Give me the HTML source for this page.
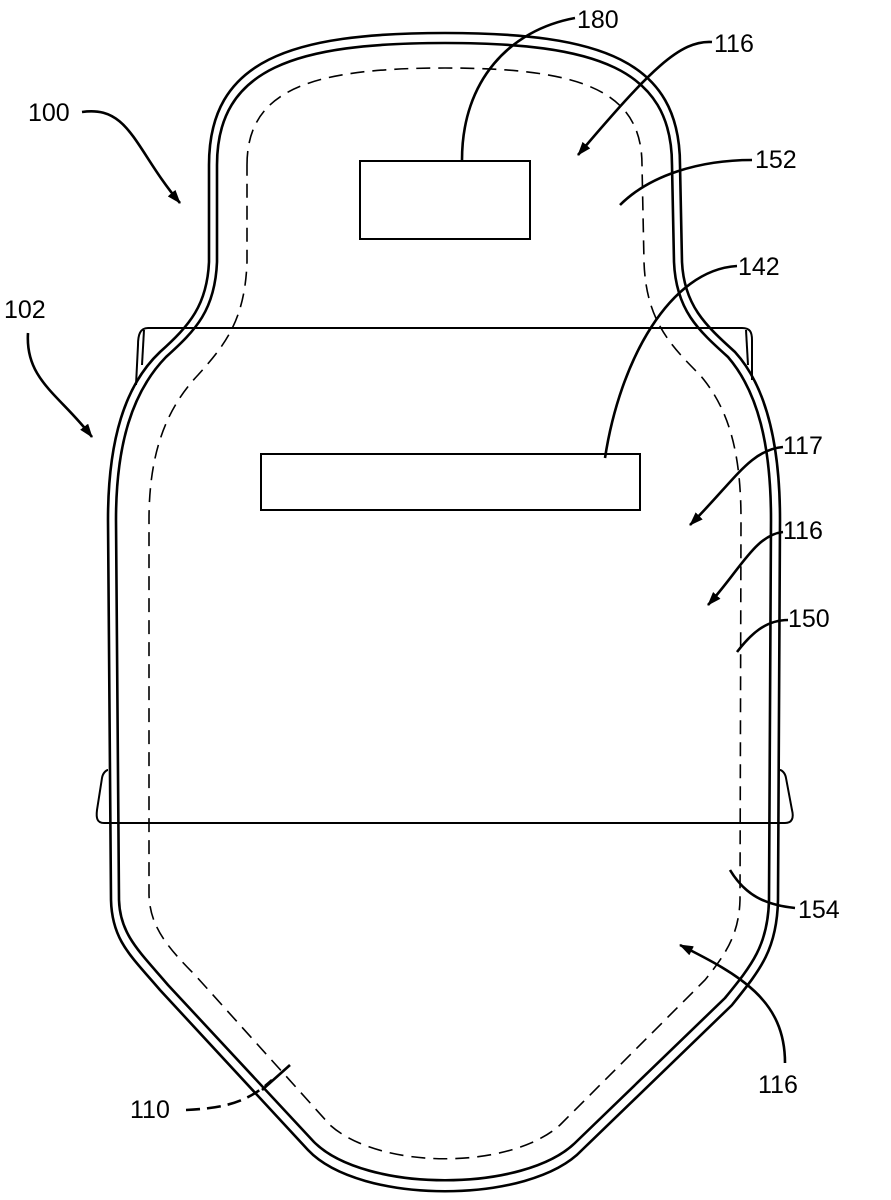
<!DOCTYPE html>
<html><head><meta charset="utf-8"><style>
html,body{margin:0;padding:0;background:#fff}
svg{display:block}
text{font-family:"Liberation Sans",Arial,sans-serif;font-size:25px;fill:#000}
</style></head><body>
<svg width="891" height="1200" viewBox="0 0 891 1200" xmlns="http://www.w3.org/2000/svg">
<defs><marker id="ah" markerWidth="14" markerHeight="10" refX="13" refY="5" orient="auto" markerUnits="userSpaceOnUse"><path d="M0,0 L14,5 L0,10 Z" fill="#000"/></marker></defs>
<g fill="none" stroke="#000" stroke-width="2.6">
<path d="M 209,165 C 209,60 290,33 445,33 C 600,33 680,60 680,165 L 682,262 C 684,305 705,325 735,352 C 765,385 780,440 780,520 L 778,900 C 777,950 760,970 732,1005 L 582,1150 C 530,1205 360,1205 308,1150 L 160,990 C 130,955 112,940 111,900 L 108,520 C 108,440 125,385 160,352 C 190,325 207,305 209,262 Z"/>
<path d="M 217,165 C 217,68 295,43 445,43 C 595,43 672,68 672,165 L 674,262 C 676,310 698,330 728,357 C 758,392 771,445 771,520 L 769,900 C 768,945 752,965 725,998 L 576,1142 C 525,1193 365,1193 314,1142 L 168,985 C 140,952 120,935 119,900 L 116,520 C 116,445 132,392 166,357 C 196,330 215,310 217,262 Z"/>
</g>
<path d="M 247,165 C 247,90 310,68 445,68 C 580,68 642,90 642,165 L 644,262 C 646,320 670,345 700,375 C 730,410 741,455 741,520 L 740,900 C 739,935 725,955 705,980 L 560,1125 C 510,1170 380,1170 330,1125 L 195,975 C 165,945 150,925 149,895 L 149,520 C 149,455 165,410 198,375 C 225,345 245,320 247,262 Z" fill="none" stroke="#000" stroke-width="1.6" stroke-dasharray="14,8"/>
<g fill="none" stroke="#000" stroke-width="2">
<!-- bands -->
<path d="M 148,328 L 742,328 C 750,328 752,332 752,340 L 752,380"/>
<path d="M 148,328 C 140,328 138,335 138,345 L 136,385"/>
<path d="M 144,330 L 142,365"/>
<path d="M 746,330 L 748,365"/>
<path d="M 104,823 L 785,823 C 792,823 794,818 792,810 L 786,778 C 785,772 781,770 780,770"/>
<path d="M 104,823 C 97,823 96,818 97,810 L 102,778 C 103,772 107,770 108,770"/>
<rect x="360" y="161" width="170" height="78"/>
<rect x="261" y="454" width="379" height="56"/>
</g>
<g fill="none" stroke="#000" stroke-width="2.6">
<path d="M 462,160 C 462,80 510,30 575,18"/>
<path d="M 712,42 C 680,40 650,70 578,155" marker-end="url(#ah)"/>
<path d="M 752,160 C 700,160 650,175 620,205"/>
<path d="M 737,266 C 670,270 620,360 605,458"/>
<path d="M 82,112 C 130,105 135,150 180,203" marker-end="url(#ah)"/>
<path d="M 28,333 C 25,380 60,395 92,437" marker-end="url(#ah)"/>
<path d="M 783,447 C 750,450 735,480 690,525" marker-end="url(#ah)"/>
<path d="M 783,532 C 755,535 740,570 708,605" marker-end="url(#ah)"/>
<path d="M 788,620 C 765,620 750,635 737,652"/>
<path d="M 795,908 C 765,905 745,895 730,870"/>
<path d="M 785,1063 C 785,1000 740,975 680,945" marker-end="url(#ah)"/>
<path d="M 262,1090 L 290,1065"/>
<path d="M 186,1110 C 230,1108 250,1100 272,1080" stroke-dasharray="14,7"/>
</g>
<text x="577" y="28">180</text>
<text x="714" y="52">116</text>
<text x="755" y="168">152</text>
<text x="738" y="275">142</text>
<text x="28" y="121">100</text>
<text x="4" y="318">102</text>
<text x="783" y="454">117</text>
<text x="783" y="539">116</text>
<text x="788" y="627">150</text>
<text x="798" y="918">154</text>
<text x="758" y="1093">116</text>
<text x="130" y="1118">110</text>
</svg>
</body></html>
